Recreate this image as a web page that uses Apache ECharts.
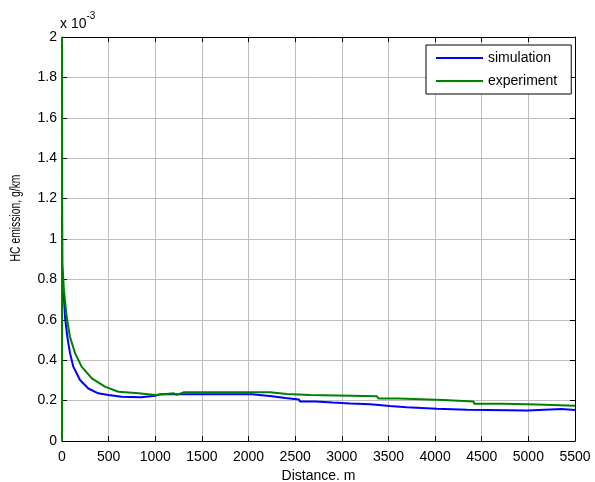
<!DOCTYPE html>
<html>
<head>
<meta charset="utf-8">
<script src="https://cdn.jsdelivr.net/npm/echarts@6/dist/echarts.min.js"></script>
<style>
  html, body { margin: 0; padding: 0; background: #fff; }
  #main { width: 595px; height: 482px; }
</style>
</head>
<body>
<div id="main"></div>
<script>
// HC emission (x 10^-3 g/km) vs distance (m)
var simDist = [0, 0, 20, 32, 57, 86, 121, 193, 282, 389,
  496, 640, 850, 1000, 1050, 2035, 2045, 2251, 2260, 2395,
  2405, 2540, 2550, 2720, 2730, 2900, 2910, 3090, 3100, 3305,
  3315, 3514, 3524, 3694, 3704, 4018, 4028, 4343, 4353, 4992,
  5002, 5354, 5364, 5500];
var simHC = [0, 0.75, 0.714, 0.615, 0.516, 0.435, 0.368, 0.302, 0.26, 0.236,
  0.228, 0.219, 0.216, 0.224, 0.231, 0.231, 0.222, 0.222, 0.213, 0.213,
  0.206, 0.206, 0.196, 0.196, 0.19, 0.19, 0.186, 0.186, 0.182, 0.182,
  0.173, 0.173, 0.167, 0.167, 0.16, 0.16, 0.155, 0.155, 0.151, 0.151,
  0.158, 0.158, 0.153, 0.153];

var expDist = [0, 0, 2, 5, 20, 50, 85, 140, 210, 320,
  460, 605, 820, 1000, 1016, 1200, 1231, 1302, 2232, 2240,
  2411, 2420, 2661, 2670, 3377, 3390, 3609, 3620, 4091, 4100,
  4413, 4420, 4735, 4745, 5093, 5100, 5500];
var expHC = [0, 2.0, 1.16, 0.88, 0.75, 0.615, 0.516, 0.435, 0.368, 0.31,
  0.269, 0.244, 0.236, 0.228, 0.236, 0.236, 0.228, 0.241, 0.241, 0.233,
  0.233, 0.228, 0.228, 0.222, 0.222, 0.211, 0.211, 0.203, 0.203, 0.195,
  0.195, 0.185, 0.185, 0.181, 0.181, 0.175, 0.175];

var seriesNames = ['simulation', 'experiment'];

function pairs(xs, ys) {
  var out = [];
  for (var i = 0; i < xs.length; i++) out.push([xs[i], ys[i]]);
  return out;
}

var font = 'Liberation Sans, Arial, sans-serif';
var fs = 14;

var chart = echarts.init(document.getElementById('main'), null, {renderer: 'canvas'});

var tickStyle = { inside: true, length: 5, lineStyle: { color: '#000', width: 1 } };
var gridLine = { show: true, lineStyle: { color: '#bdbdbd', width: 1, type: 'solid' } };

var option = {
  animation: false,
  backgroundColor: '#fff',
  textStyle: { fontFamily: font },
  grid: { left: 62, right: 20, top: 37, bottom: 41, containLabel: false, outerBoundsMode: 'none' },
  legend: {
    data: seriesNames,
    orient: 'vertical',
    left: 426,
    top: 45,
    padding: [6, 14, 6, 10],
    itemGap: 9,
    itemWidth: 47,
    itemHeight: 2,
    icon: 'rect',
    borderColor: '#000',
    borderWidth: 1,
    backgroundColor: '#fff',
    textStyle: { fontFamily: font, fontSize: fs, color: '#000', lineHeight: 14 }
  },
  xAxis: [{
    type: 'value', min: 0, max: 5500, interval: 500,
    name: 'Distance. m', nameLocation: 'middle', nameGap: 26,
    nameTextStyle: { fontFamily: font, fontSize: fs, color: '#000' },
    axisLine: { show: true, lineStyle: { color: '#000', width: 1 } },
    axisTick: tickStyle,
    axisLabel: { fontFamily: font, fontSize: fs, color: '#000', margin: 9,
      formatter: function (v) { return String(v); } },
    splitLine: gridLine
  }, {
    type: 'value', min: 0, max: 5500, interval: 500, position: 'top',
    axisLine: { show: true, onZero: false, lineStyle: { color: '#000', width: 1 } },
    axisTick: tickStyle,
    axisLabel: { show: false },
    splitLine: { show: false }
  }],
  yAxis: [{
    type: 'value', min: 0, max: 2, interval: 0.2,
    axisLine: { show: true, lineStyle: { color: '#000', width: 1 } },
    axisTick: tickStyle,
    axisLabel: { fontFamily: font, fontSize: fs, color: '#000', margin: 5,
      formatter: function (v) { return String(+v.toFixed(1)); } },
    splitLine: gridLine
  }, {
    type: 'value', min: 0, max: 2, interval: 0.2, position: 'right',
    axisLine: { show: true, onZero: false, lineStyle: { color: '#000', width: 1 } },
    axisTick: tickStyle,
    axisLabel: { show: false },
    splitLine: { show: false }
  }],
  graphic: [{
    type: 'text', left: 60, top: 11,
    style: {
      text: '{a|x 10}{b|-3}',
      rich: {
        a: { fontFamily: font, fontSize: fs, fill: '#000', padding: [6, 0, 0, 0] },
        b: { fontFamily: font, fontSize: 10, fill: '#000', verticalAlign: 'top' }
      }
    }
  }, {
    // y axis title (squeezed like the original)
    type: 'text', x: 16, y: 218, rotation: Math.PI / 2, scaleX: 0.74,
    style: {
      text: 'HC emission, g/km',
      fontFamily: font, fontSize: fs, fill: '#000',
      align: 'center', verticalAlign: 'middle'
    }
  }],
  series: [{
    name: seriesNames[0], type: 'line', xAxisIndex: 0, yAxisIndex: 0,
    data: pairs(simDist, simHC), showSymbol: false, symbol: 'none',
    lineStyle: { color: '#0000ff', width: 2 }, itemStyle: { color: '#0000ff' },
    z: 3
  }, {
    name: seriesNames[1], type: 'line', xAxisIndex: 0, yAxisIndex: 0,
    data: pairs(expDist, expHC), showSymbol: false, symbol: 'none',
    lineStyle: { color: '#008000', width: 2 }, itemStyle: { color: '#008000' },
    z: 4
  }]
};

chart.setOption(option);
</script>
</body>
</html>
